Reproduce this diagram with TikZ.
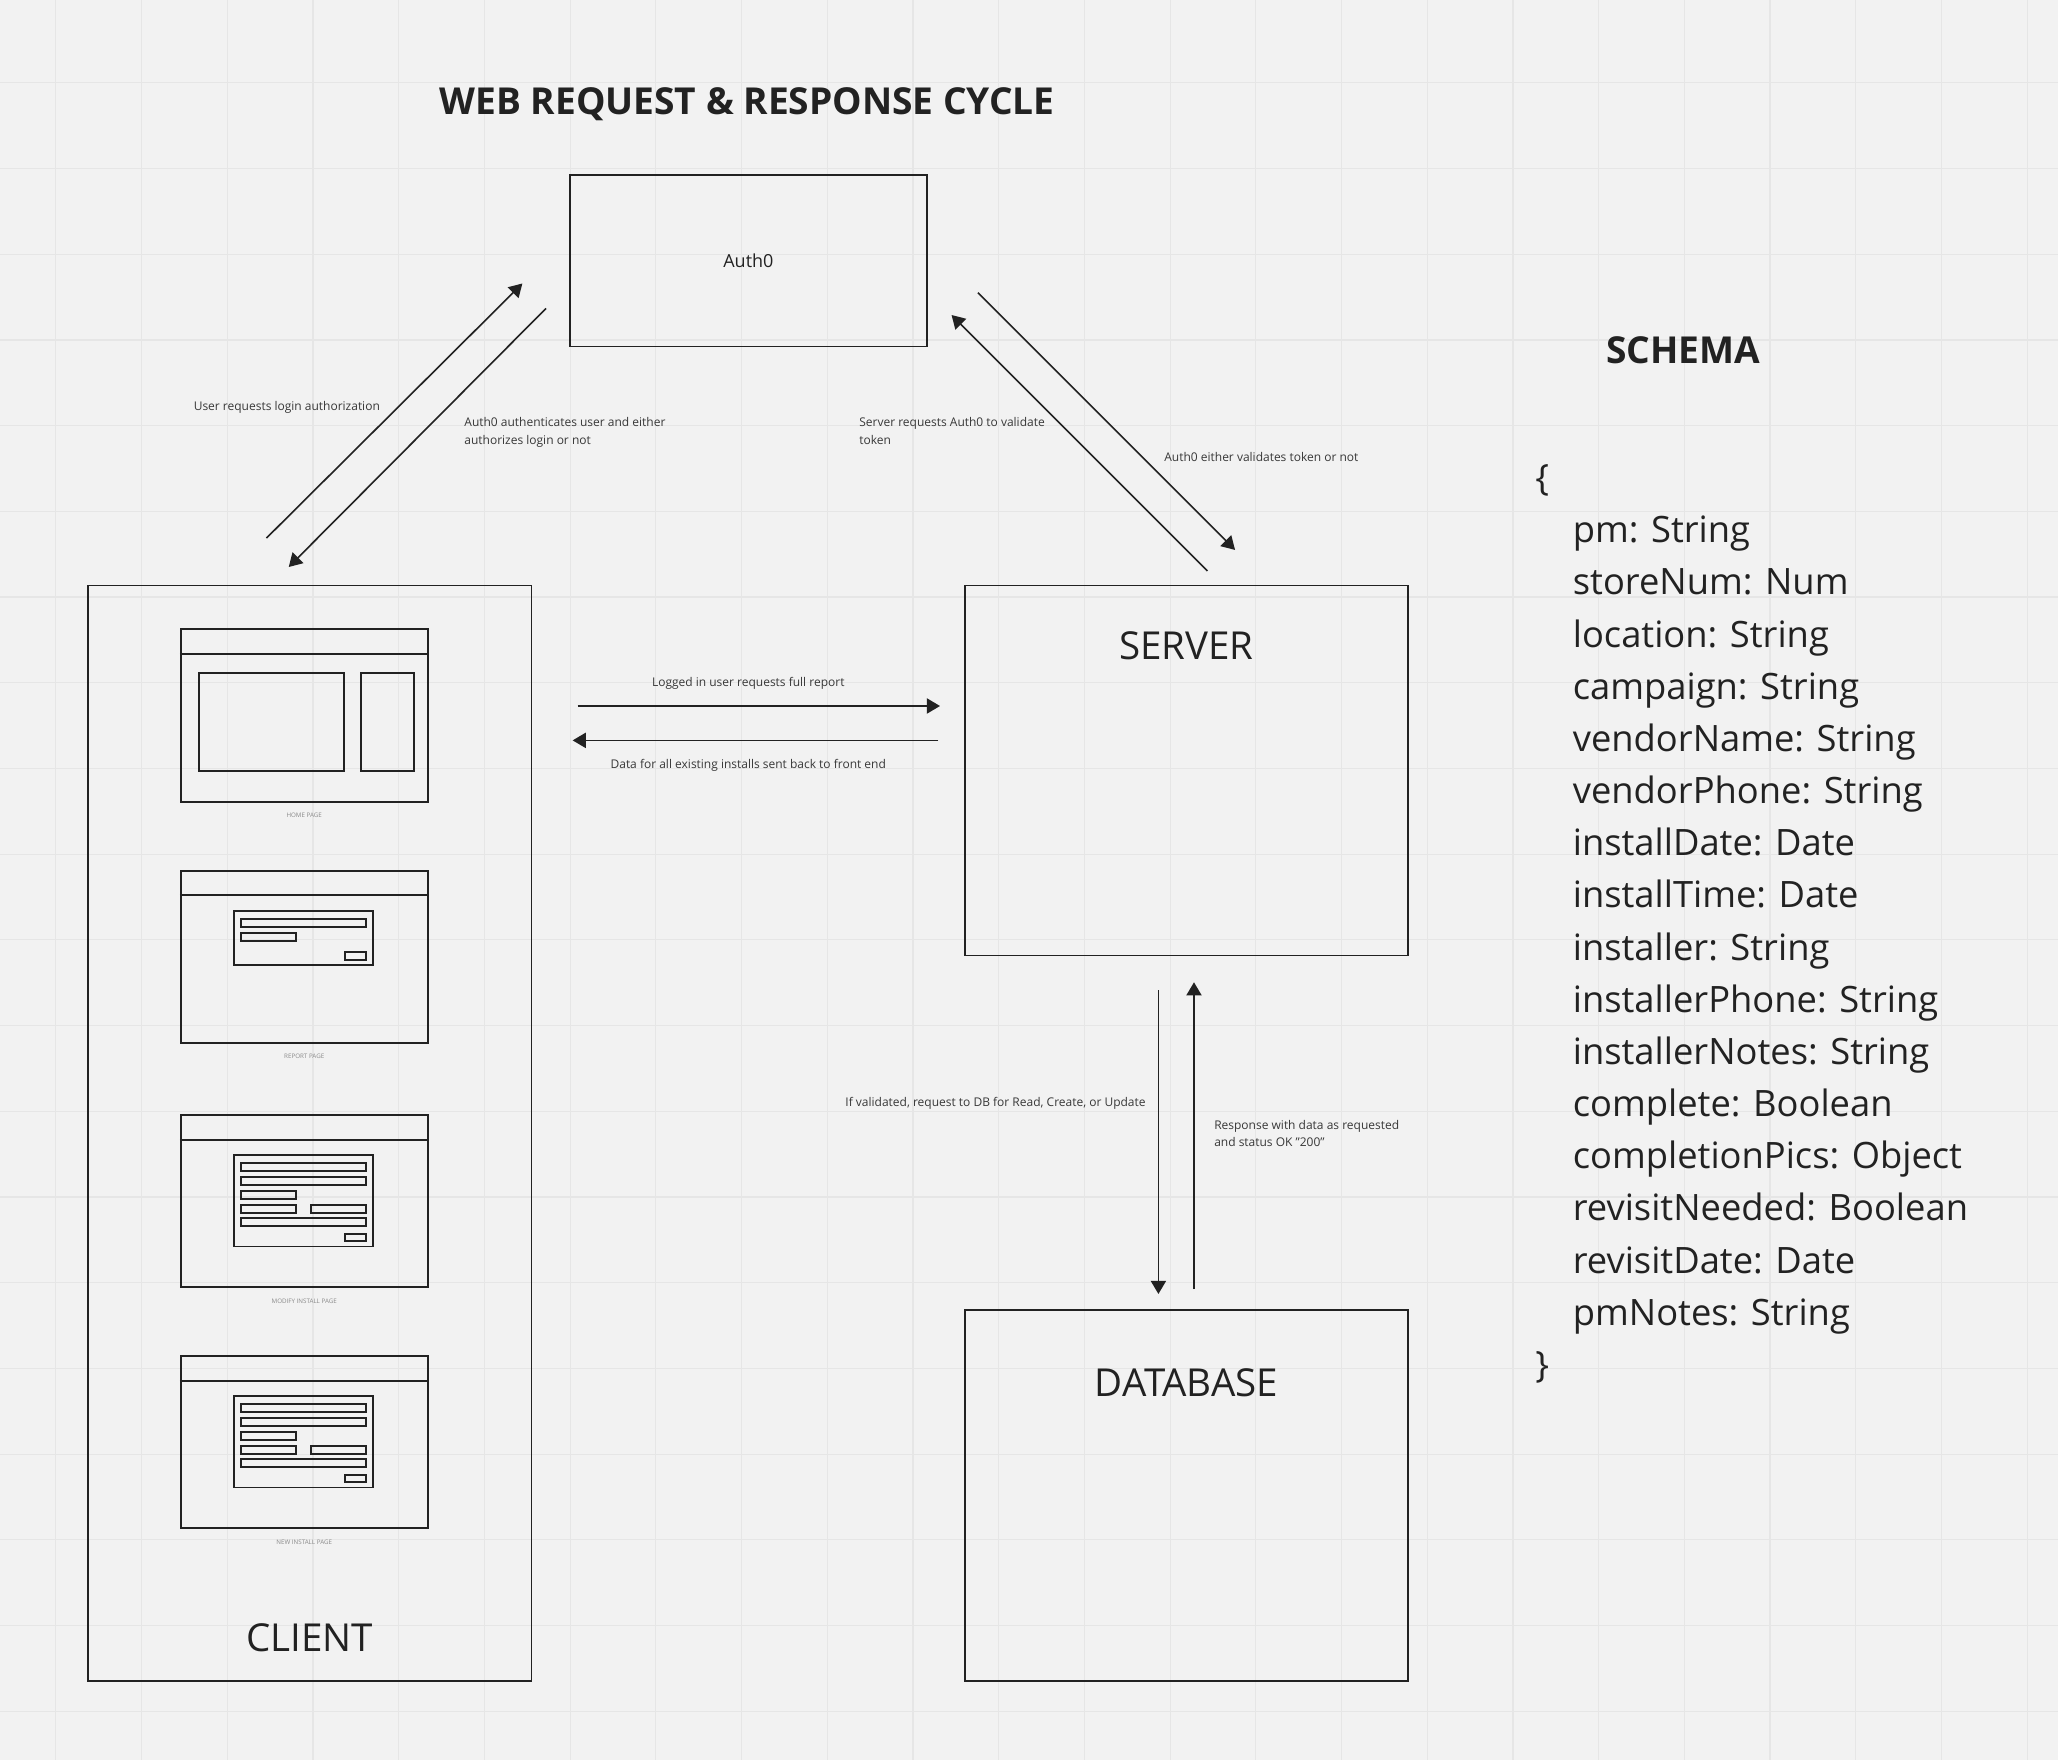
\documentclass[tikz,border=0pt]{standalone}
\usepackage{fontspec}
\setmainfont{Open Sans}
\usepackage{tikz}
\usetikzlibrary{arrows.meta,positioning}
\definecolor{board}{HTML}{F2F2F2}
\definecolor{gridline}{HTML}{E6E6E6}
\definecolor{ink}{HTML}{222222}
\definecolor{faint}{HTML}{8A8A8A}
\tikzset{>={Triangle[length=2mm,width=2.3mm]},
         box/.style={draw=ink, line width=0.75pt, inner sep=0pt},
         wire/.style={draw=ink, line width=0.85pt},
         boxtext/.style={font=\fontsize{16.7}{20}\selectfont, text=ink, inner sep=0pt},
         heading/.style={font=\bfseries\fontsize{16.1}{19}\selectfont, text=ink, inner sep=0pt, anchor=base},
         note/.style={font=\fontsize{5.2}{7.4}\selectfont, text=ink!90, inner sep=0pt, align=left},
         pagelabel/.style={font=\fontsize{2.7}{3}\selectfont, text=faint, inner sep=0pt},
         schemaline/.style={font=\fontsize{15.75}{20}\selectfont, text=ink, inner sep=0pt, anchor=base west}}

\begin{document}
\begin{tikzpicture}[x=0.02cm, y=-0.02cm]
% board and grid
\fill[board] (0,0) rectangle (1568,1341);
\useasboundingbox (0,0) rectangle (1568,1341);
\foreach \k in {0,...,23} \draw[gridline, line width=0.5pt] (42.6+65.3*\k,0) -- (42.6+65.3*\k,1341);
\foreach \k in {0,...,19} \draw[gridline, line width=0.5pt] (0,63.1+65.3*\k) -- (1568,63.1+65.3*\k);

% headings
\node[heading] (title) at (569.2,87.6) {WEB REQUEST \& RESPONSE CYCLE};
\node[heading] (schematitle) at (1282.3,277.3) {SCHEMA};

% main boxes
\node[box, minimum width=5.446cm, minimum height=2.616cm, font=\fontsize{7.8}{9}\selectfont, text=ink] (auth) at (570.2,198.7) {Auth0};
\node[box, minimum width=6.76cm, minimum height=16.7cm] (client) at (236,863.5) {};
\node[box, minimum width=6.76cm, minimum height=5.64cm] (server) at (904,587) {};
\node[box, minimum width=6.76cm, minimum height=5.66cm] (db) at (904,1139.5) {};
\node[boxtext, anchor=north, below=0.714cm of server.north] (servertxt) {SERVER};
\node[boxtext, anchor=north, below=0.894cm of db.north] (dbtxt) {DATABASE};
\node[boxtext, anchor=south, above=0.452cm of client.south] (clienttxt) {CLIENT};

% client pages
\node[box, wire, minimum width=3.764cm, minimum height=2.626cm] (home) at (231.8,545.2) {};
\node[box, wire, minimum width=3.764cm, minimum height=2.626cm] (report) at (231.8,729.1) {};
\node[box, wire, minimum width=3.764cm, minimum height=2.626cm] (modify) at (231.8,915.2) {};
\node[box, wire, minimum width=3.764cm, minimum height=2.626cm] (newinst) at (231.8,1098.8) {};
\node[pagelabel, below=0.15cm of home] (homelbl) {HOME PAGE};
\node[pagelabel, below=0.15cm of report] (reportlbl) {REPORT PAGE};
\node[pagelabel, below=0.15cm of modify] (modifylbl) {MODIFY INSTALL PAGE};
\node[pagelabel, below=0.15cm of newinst] (newinstlbl) {NEW INSTALL PAGE};
\foreach \pg in {home,report,modify,newinst}
  \draw[wire] ([yshift=-0.39cm]\pg.north west) -- ([yshift=-0.39cm]\pg.north east);
\begin{scope}[shift={(home.north west)}]
  \draw[wire] (14.5,34) rectangle (125.4,108.9);
  \draw[wire] (137.9,34) rectangle (178.3,108.9);
\end{scope}
\begin{scope}[shift={(report.north west)}]
  \draw[wire] (41.3,31.7) rectangle (147,72.8);
  \draw[wire] (46.4,37.6) rectangle ++(95.3,5.8);
  \draw[wire] (46.4,48.2) rectangle ++(41.9,5.8);
  \draw[wire] (126.2,62.9) rectangle ++(15.5,5.8);
\end{scope}
\foreach \pg in {modify,newinst}{
  \begin{scope}[shift={(\pg.north west)}]
    \draw[wire] (41.3,31.5) rectangle (147,100.9);
    \foreach \y in {37.6,48.3,79.5} \draw[wire] (46.4,\y) rectangle ++(95.3,5.8);
    \draw[wire] (46.4,58.7) rectangle ++(41.9,5.8);
    \draw[wire] (46.4,69.4) rectangle ++(41.9,5.8);
    \draw[wire] (99.8,69.4) rectangle ++(41.9,5.8);
    \draw[wire] (126.2,91.2) rectangle ++(15.5,5.8);
  \end{scope}}

% arrow ends
\coordinate (login-s) at (203,410);   \coordinate (login-e) at (398,216);
\coordinate (authz-s) at (416,235);   \coordinate (authz-e) at (220,432);
\coordinate (check-s) at (920,435);   \coordinate (check-e) at (725,240);
\coordinate (token-s) at (745,223);   \coordinate (token-e) at (941,419);
\coordinate (full-s) at (440.1,537.9); \coordinate (full-e) at (716.2,537.9);
\coordinate (data-s) at (714.9,564.1); \coordinate (data-e) at (436.3,564.1);
\coordinate (query-s) at (882.6,754.3); \coordinate (query-e) at (882.6,985.9);
\coordinate (reply-s) at (909.7,982.1); \coordinate (reply-e) at (909.7,748.4);
\path[->, color=ink, line width=0.7pt]
(login-s) edge (login-e)
(authz-s) edge (authz-e)
(check-s) edge (check-e)
(token-s) edge (token-e)
(full-s) edge (full-e)
(data-s) edge (data-e)
(query-s) edge (query-e)
(reply-s) edge (reply-e);

% arrow notes
\node[note, anchor=base west] (loginlbl) at (147.3,312.4) {User requests login authorization};
\node[note, anchor=base west] (authzlbl) at (353.5,338.3) {Auth0 authenticates user and either\\authorizes login or not};
\node[note, anchor=base west] (checklbl) at (654.4,338.3) {Server requests Auth0 to validate\\token};
\node[note, anchor=base west] (tokenlbl) at (886.8,351.8) {Auth0 either validates token or not};
\node[note, anchor=base] (fulllbl) at (570.1,522.7) {Logged in user requests full report};
\node[note, anchor=base] (datalbl) at (570.1,585.9) {Data for all existing installs sent back to front end};
\node[note, anchor=base east] (querylbl) at (873.2,842.7) {If validated, request to DB for Read, Create, or Update};
\node[note, anchor=base west] (replylbl) at (924.8,873.7) {Response with data as requested\\and status OK "200"};

% schema
\node[schemaline] (open) at (1169.5,373.75) {\{};
\foreach \f [count=\i] in {pm: String, storeNum: Num, location: String, campaign: String,
  vendorName: String, vendorPhone: String, installDate: Date, installTime: Date,
  installer: String, installerPhone: String, installerNotes: String, complete: Boolean,
  completionPics: Object, revisitNeeded: Boolean, revisitDate: Date, pmNotes: String}
  \node[schemaline] (field\i) at (1198,373.75+39.75*\i) {\f};
\node[schemaline] (close) at (1169.5,1049.5) {\}};
\end{tikzpicture}
\end{document}
